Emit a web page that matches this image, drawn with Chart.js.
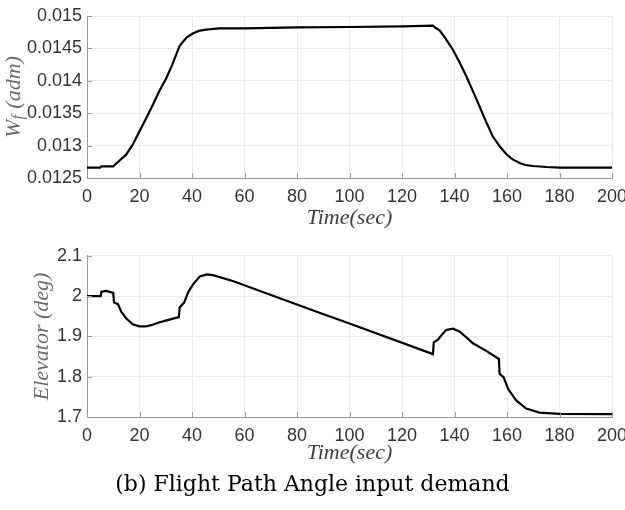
<!DOCTYPE html>
<html>
<head>
<meta charset="utf-8">
<script src="https://cdn.jsdelivr.net/npm/chart.js@4.4.1/dist/chart.umd.min.js"></script>
<style>
  html, body { margin: 0; padding: 0; background: #fff; overflow: hidden; }
  #wrap { position: relative; width: 625px; height: 510px; overflow: hidden; background: #fff; }
  canvas { position: absolute; left: 0; }
  #cTop { top: 0; }
  #cBot { top: 240px; }
  #caption {
    position: absolute; left: 0; width: 625px; top: 471px;
    text-align: center; font-family: "DejaVu Serif", serif; font-size: 22px; color: #000;
  }
</style>
</head>
<body>
<div id="wrap">
  <canvas id="cTop" width="640" height="240" style="width:640px;height:240px"></canvas>
  <canvas id="cBot" width="640" height="240" style="width:640px;height:240px"></canvas>
  <div id="caption">(b) Flight Path Angle input demand</div>
</div>
<script>
// ---- dados ----
const wfTime = [0, 5, 5.5, 10, 10.5, 12.4, 14.9, 17.5, 20, 22.5, 25.1, 27.5, 30.2, 32.5, 35.2, 36.5, 38, 40.3, 42.5, 45.3, 50.4, 60, 80, 100, 120, 131.8, 133, 134.3, 136.5, 139.4, 142, 144.5, 147, 149.6, 152, 154.6, 157.2, 159.7, 162, 164.8, 167, 169.9, 175, 180, 190, 200];
const wfValues = [0.01266, 0.01266, 0.01268, 0.01268, 0.01270, 0.01277, 0.01286, 0.01302, 0.01322, 0.01342, 0.01363, 0.01384, 0.01404, 0.01425, 0.01453, 0.01460, 0.01467, 0.01473, 0.01477, 0.01479, 0.01481, 0.01481, 0.014825, 0.01483, 0.01484, 0.01485, 0.01481, 0.01478, 0.01466, 0.01448, 0.01428, 0.01407, 0.01384, 0.0136, 0.01337, 0.01314, 0.01299, 0.01287, 0.01279, 0.01273, 0.0127, 0.012685, 0.01267, 0.01266, 0.01266, 0.01266];

const elevTime = [0, 5.2, 5.5, 7.3, 10, 10.3, 11.8, 13, 14.9, 17.4, 20, 22.6, 25, 27.7, 30, 32.8, 35, 35.3, 37, 38.5, 40.4, 43, 45.6, 48, 55.8, 88.8, 100, 131.8, 132.1, 133.7, 134.9, 136.8, 139.4, 141.9, 144.5, 147, 152.1, 156.9, 157.2, 158.7, 160.4, 163.5, 167.3, 172.4, 180, 200];
const elevValues = [2.0, 2.0, 2.011, 2.013, 2.008, 1.984, 1.98, 1.962, 1.945, 1.93, 1.925, 1.925, 1.929, 1.935, 1.939, 1.944, 1.948, 1.972, 1.984, 2.009, 2.029, 2.049, 2.054, 2.052, 2.037, 1.958, 1.932, 1.856, 1.885, 1.892, 1.902, 1.916, 1.919, 1.912, 1.898, 1.883, 1.864, 1.844, 1.807, 1.799, 1.77, 1.741, 1.721, 1.711, 1.708, 1.707];

const timeTicks = [0, 20, 40, 60, 80, 100, 120, 140, 160, 180, 200];
const wfTicks = [0.0125, 0.013, 0.0135, 0.014, 0.0145, 0.015];
const elevTicks = [1.7, 1.8, 1.9, 2, 2.1];

const AXIS_COLOR = '#9a9a9a';
const GRID_COLOR = '#ebebeb';
const TICK_FONT = { family: '"Liberation Sans", Arial, sans-serif', size: 18 };
const TITLE_FONT = { family: '"Liberation Serif", serif', size: 22, style: 'italic' };

function toPoints(xs, ys) {
    return xs.map((x, i) => ({ x: x, y: ys[i] }));
}

// marcas de tick para dentro (estilo MATLAB)
const innerTicks = {
    id: 'innerTicks',
    afterDatasetsDraw(chart) {
        const ctx = chart.ctx;
        const a = chart.chartArea;
        const xs = chart.scales.x, ys = chart.scales.y;
        ctx.save();
        ctx.strokeStyle = AXIS_COLOR;
        ctx.lineWidth = 1;
        ctx.beginPath();
        xs.ticks.forEach(t => {
            const px = Math.round(xs.getPixelForValue(t.value)) + 0.5;
            ctx.moveTo(px, a.bottom);
            ctx.lineTo(px, a.bottom - 5);
        });
        ys.ticks.forEach(t => {
            const py = Math.round(ys.getPixelForValue(t.value)) + 0.5;
            ctx.moveTo(a.left, py);
            ctx.lineTo(a.left + 5, py);
        });
        ctx.stroke();
        ctx.restore();
    }
};

// título do eixo y com subscrito: W_f (adm)
const wfTitle = {
    id: 'wfTitle',
    afterDraw(chart) {
        const ctx = chart.ctx;
        const a = chart.chartArea;
        const big = 'italic 22px "Liberation Serif", serif';
        const small = 'italic 16px "Liberation Serif", serif';
        ctx.save();
        ctx.font = big;
        const wW = ctx.measureText('W').width;
        const wRest = ctx.measureText(' (adm)').width;
        ctx.font = small;
        const wF = ctx.measureText('f').width + 1;
        const total = wW + wF + wRest;
        ctx.translate(14, (a.top + a.bottom) / 2);
        ctx.rotate(-Math.PI / 2);
        ctx.fillStyle = '#6a6a6a';
        ctx.textBaseline = 'middle';
        ctx.textAlign = 'left';
        let x = -total / 2;
        ctx.font = big;
        ctx.fillText('W', x, 0);
        x += wW;
        ctx.font = small;
        ctx.fillText('f', x, 5);
        x += wF;
        ctx.font = big;
        ctx.fillText(' (adm)', x, 0);
        ctx.restore();
    }
};

function makeChart(canvasId, cfg) {
    return new Chart(document.getElementById(canvasId), {
        type: 'line',
        data: {
            datasets: [{
                data: toPoints(cfg.xs, cfg.ys),
                borderColor: '#000',
                borderWidth: 2.2,
                pointRadius: 0,
                tension: 0,
                fill: false
            }]
        },
        options: {
            responsive: false,
            animation: false,
            layout: { padding: { left: 0, right: 28, top: cfg.top, bottom: 0 } },
            plugins: { legend: { display: false }, tooltip: { enabled: false } },
            scales: {
                x: {
                    type: 'linear',
                    min: 0, max: 200,
                    afterBuildTicks: s => { s.ticks = timeTicks.map(v => ({ value: v })); },
                    afterFit: s => { s.height = cfg.xHeight; },
                    grid: { color: GRID_COLOR, drawTicks: false },
                    border: { color: AXIS_COLOR, width: 1 },
                    ticks: { font: TICK_FONT, color: '#333', padding: 8, maxRotation: 0 },
                    title: {
                        display: true, text: 'Time(sec)', font: TITLE_FONT, color: '#404040',
                        padding: { top: 0, bottom: cfg.xTitlePad }
                    }
                },
                y: {
                    type: 'linear',
                    min: cfg.yMin, max: cfg.yMax,
                    afterBuildTicks: s => { s.ticks = cfg.yTicks.map(v => ({ value: v })); },
                    afterFit: s => { s.width = 87; },
                    grid: { color: GRID_COLOR, drawTicks: false },
                    border: { color: AXIS_COLOR, width: 1 },
                    ticks: { font: TICK_FONT, color: '#333', padding: 5, callback: v => String(v) },
                    title: cfg.yTitle
                }
            }
        },
        plugins: cfg.plugins
    });
}

makeChart('cTop', {
    xs: wfTime, ys: wfValues,
    yMin: 0.0125, yMax: 0.015, yTicks: wfTicks,
    top: 16, xHeight: 62, xTitlePad: 9,
    yTitle: { display: false },
    plugins: [innerTicks, wfTitle]
});

makeChart('cBot', {
    xs: elevTime, ys: elevValues,
    yMin: 1.7, yMax: 2.1, yTicks: elevTicks,
    top: 15, xHeight: 63, xTitlePad: 14,
    yTitle: {
        display: true, text: 'Elevator (deg)', font: TITLE_FONT, color: '#6a6a6a',
        padding: { top: 29, bottom: 0 }
    },
    plugins: [innerTicks]
});
</script>
</body>
</html>
